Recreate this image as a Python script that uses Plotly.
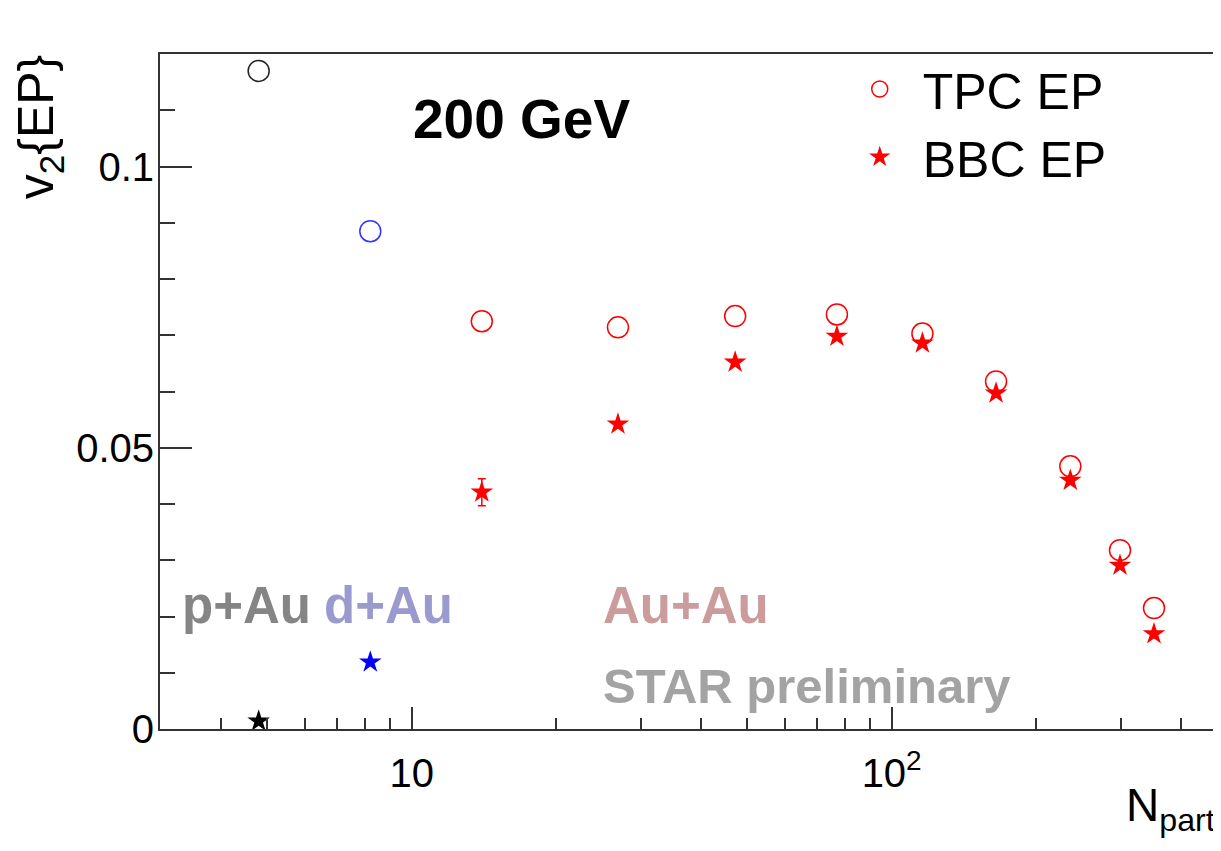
import plotly.graph_objects as go

# ---- data ----
npart_pAu = [4.8]
v2_tpc_pAu = [0.117]
v2_bbc_pAu = [0.0014]

npart_dAu = [8.2]
v2_tpc_dAu = [0.0885]
v2_bbc_dAu = [0.0119]

npart_AuAu = [14.0, 26.9, 47.2, 76.9, 115.9, 165.0, 235.6, 299.0, 352.0]
v2_tpc_AuAu = [0.0725, 0.0714, 0.0734, 0.0737, 0.0703, 0.0618, 0.0467, 0.0318, 0.0215]
v2_bbc_AuAu = [0.0421, 0.0542, 0.0652, 0.0698, 0.0686, 0.0597, 0.0442, 0.0291, 0.0169]
err_bbc_AuAu = [0.0024, 0.0, 0.0, 0.0, 0.0, 0.0, 0.0, 0.0, 0.0]

x_tickvals = [10, 100]
x_ticktext = ["10", "10<sup>2</sup>"]
x_minor = [3, 4, 5, 6, 7, 8, 9, 20, 30, 40, 50, 60, 70, 80, 90, 200, 300, 400]
y_tickvals = [0, 0.05, 0.1]
y_ticktext = ["0", "0.05", "0.1"]
y_minor = [0.01, 0.02, 0.03, 0.04, 0.06, 0.07, 0.08, 0.09, 0.11]

FONT = "Liberation Sans, Arial, Helvetica, sans-serif"
CIRC = 21
STAR = 17

fig = go.Figure()

def add(x, y, color, symbol, size, name=None, show=False, err=None):
    kw = {}
    if err is not None:
        kw["error_y"] = dict(type="data", array=err, visible=True, color=color,
                             thickness=1.5, width=4)
    fig.add_trace(go.Scatter(
        x=x, y=y, mode="markers", name=name, showlegend=show,
        marker=dict(symbol=symbol, size=size, color=color,
                    line=dict(color=color, width=1.5 if "open" in symbol else 0)),
        **kw))

add(npart_pAu, v2_tpc_pAu, "#222222", "circle-open", CIRC)
add(npart_pAu, v2_bbc_pAu, "#000000", "star", STAR)
add(npart_dAu, v2_tpc_dAu, "#3333ff", "circle-open", CIRC)
add(npart_dAu, v2_bbc_dAu, "#0000ff", "star", STAR)
add(npart_AuAu, v2_tpc_AuAu, "#ff0000", "circle-open", CIRC, name="TPC EP", show=True)
add(npart_AuAu, v2_bbc_AuAu, "#ff0000", "star", STAR, name="BBC EP", show=True, err=err_bbc_AuAu)

# page body has an 8px margin: lay the figure out in screen pixels minus that offset
OFF = 8
W, H = 1221 - OFF, 851 - OFF
L, T = 160 - OFF, 54 - OFF
R = W - (1218 - OFF)
B = H - (729 - OFF)
pw, ph = W - L - R, H - T - B

def px(xpix):
    return (xpix - OFF - L) / pw

def py(ypix):
    return (H - B - (ypix - OFF)) / ph

annots = [
    dict(text="<b>200 GeV</b>", x=px(411), y=py(119), color="#000000", size=55),
    dict(text="<b>p+Au</b>", x=px(180), y=py(605), color="#858585", size=51),
    dict(text="<b>d+Au</b>", x=px(322), y=py(605), color="#9a9acf", size=51),
    dict(text="<b>Au+Au</b>", x=px(602), y=py(605), color="#cc9c9c", size=51),
    dict(text="<b>STAR preliminary</b>", x=px(602), y=py(686), color="#a3a3a3", size=49),
]
for a in annots:
    fig.add_annotation(text=a["text"], x=a["x"], y=a["y"], xref="paper", yref="paper",
                       xanchor="left", yanchor="middle", showarrow=False,
                       font=dict(family=FONT, size=a["size"], color=a["color"]))

# axis titles
fig.add_annotation(text="v<sub>2</sub>{EP}", x=px(6), y=py(52), xref="paper", yref="paper",
                   xanchor="left", yanchor="top", textangle=-90, showarrow=False,
                   font=dict(family=FONT, size=50, color="#000000"))
fig.add_annotation(text="N<sub>part</sub>", x=px(1219), y=py(777), xref="paper", yref="paper",
                   xanchor="right", yanchor="top", showarrow=False,
                   font=dict(family=FONT, size=46, color="#000000"))

fig.update_layout(
    width=W, height=H,
    margin=dict(l=L, r=R, t=T, b=B, pad=0),
    paper_bgcolor="white", plot_bgcolor="white",
    font=dict(family=FONT, size=40, color="#000000"),
    showlegend=True,
    legend=dict(x=px(838), y=py(50), xanchor="left", yanchor="top",
                bgcolor="rgba(0,0,0,0)", borderwidth=0,
                font=dict(family=FONT, size=50, color="#000000"),
                itemwidth=76, itemsizing="trace", tracegroupgap=0),
    xaxis=dict(type="log", range=[0.4757, 2.6757], showgrid=False, zeroline=False,
               showline=True, linecolor="#333333", linewidth=2, mirror=True,
               ticks="inside", ticklen=22, tickwidth=2, tickcolor="#333333",
               tickmode="array", tickvals=x_tickvals, ticktext=x_ticktext,
               ticklabelstandoff=8,
               tickfont=dict(family=FONT, size=40, color="#000000"),
               minor=dict(tickmode="array", tickvals=x_minor, ticks="inside",
                          ticklen=11, tickwidth=2, tickcolor="#333333", showgrid=False)),
    yaxis=dict(range=[0, 0.12], showgrid=False, zeroline=False,
               showline=True, linecolor="#333333", linewidth=2, mirror=True,
               ticks="inside", ticklen=32, tickwidth=2, tickcolor="#333333",
               tickmode="array", tickvals=y_tickvals, ticktext=y_ticktext,
               ticklabelstandoff=-4,
               tickfont=dict(family=FONT, size=40, color="#000000"),
               minor=dict(tickmode="array", tickvals=y_minor, ticks="inside",
                          ticklen=15, tickwidth=2, tickcolor="#333333", showgrid=False)),
)

fig.write_html("out.html")
